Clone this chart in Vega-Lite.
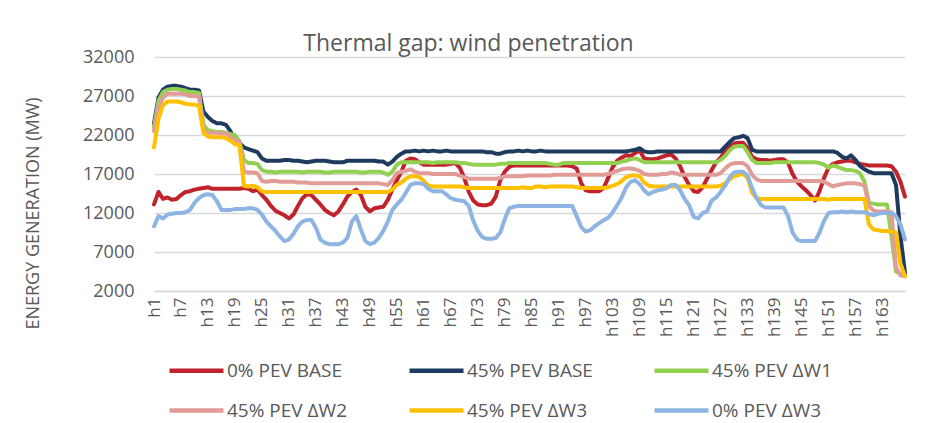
{
"$schema":"https://vega.github.io/schema/vega-lite/v6.json",
"width":751,"height":234,
"autosize":{"type":"none"},
"padding":{"left":154,"top":57,"right":22,"bottom":132},
"background":"white",
"title":{"text":"Thermal gap: wind penetration","anchor":"middle","dx":-61,"dy":12,"offset":4,"fontSize":23,"font":"Open Sans","fontWeight":"normal","color":"#595959"},
"datasets":{"names":[{"k":"a","name":"0% PEV BASE"},{"k":"b","name":"45% PEV BASE"},{"k":"c","name":"45% PEV ΔW1"},{"k":"d","name":"45% PEV ΔW2"},{"k":"e","name":"45% PEV ΔW3"},{"k":"f","name":"0% PEV ΔW3"}]},
"data":{"values":[
{"h":1,"a":13100,"b":23500,"c":23000,"d":22500,"e":20400,"f":10300},
{"h":2,"a":14700,"b":26800,"c":26400,"d":25500,"e":24100,"f":11600},
{"h":3,"a":13800,"b":27800,"c":27500,"d":26800,"e":25800,"f":11300},
{"h":4,"a":14000,"b":28200,"c":27800,"d":27300,"e":26300,"f":11800},
{"h":5,"a":13700,"b":28300,"c":27900,"d":27300,"e":26300,"f":11900},
{"h":6,"a":13800,"b":28300,"c":27900,"d":27300,"e":26300,"f":12000},
{"h":7,"a":14300,"b":28200,"c":27800,"d":27300,"e":26200,"f":12000},
{"h":8,"a":14700,"b":28000,"c":27700,"d":27200,"e":26000,"f":12100},
{"h":9,"a":14800,"b":27800,"c":27500,"d":27000,"e":25900,"f":12400},
{"h":10,"a":15000,"b":27800,"c":27500,"d":27000,"e":25900,"f":13300},
{"h":11,"a":15100,"b":27700,"c":27400,"d":26900,"e":25700,"f":13900},
{"h":12,"a":15200,"b":25000,"c":23300,"d":22600,"e":22300,"f":14300},
{"h":13,"a":15300,"b":24300,"c":22600,"d":22300,"e":21800,"f":14400},
{"h":14,"a":15100,"b":23800,"c":22500,"d":22300,"e":21700,"f":14300},
{"h":15,"a":15100,"b":23500,"c":22400,"d":22300,"e":21700,"f":13500},
{"h":16,"a":15100,"b":23500,"c":22400,"d":22200,"e":21700,"f":12400},
{"h":17,"a":15100,"b":23300,"c":22300,"d":22200,"e":21600,"f":12400},
{"h":18,"a":15100,"b":22500,"c":22100,"d":21800,"e":21300,"f":12400},
{"h":19,"a":15100,"b":21200,"c":22000,"d":21300,"e":20800,"f":12500},
{"h":20,"a":15100,"b":21000,"c":21200,"d":21100,"e":20700,"f":12500},
{"h":21,"a":15200,"b":20400,"c":18800,"d":17300,"e":15500,"f":12500},
{"h":22,"a":15100,"b":20200,"c":18400,"d":17200,"e":15400,"f":12600},
{"h":23,"a":14800,"b":20000,"c":18400,"d":17200,"e":15500,"f":12600},
{"h":24,"a":15000,"b":19800,"c":18300,"d":17100,"e":15300,"f":12400},
{"h":25,"a":14300,"b":19000,"c":17500,"d":16100,"e":14800,"f":11800},
{"h":26,"a":13700,"b":18700,"c":17300,"d":16000,"e":14700,"f":10900},
{"h":27,"a":12900,"b":18700,"c":17300,"d":16100,"e":14700,"f":10300},
{"h":28,"a":12300,"b":18700,"c":17200,"d":16100,"e":14700,"f":9700},
{"h":29,"a":12000,"b":18700,"c":17300,"d":16000,"e":14700,"f":9000},
{"h":30,"a":11700,"b":18800,"c":17300,"d":16000,"e":14700,"f":8400},
{"h":31,"a":11300,"b":18800,"c":17300,"d":16000,"e":14700,"f":8600},
{"h":32,"a":11800,"b":18700,"c":17300,"d":16000,"e":14700,"f":9300},
{"h":33,"a":12900,"b":18700,"c":17300,"d":15900,"e":14700,"f":10300},
{"h":34,"a":13900,"b":18600,"c":17200,"d":15900,"e":14700,"f":10900},
{"h":35,"a":14400,"b":18500,"c":17300,"d":15900,"e":14700,"f":11100},
{"h":36,"a":14300,"b":18600,"c":17300,"d":15800,"e":14700,"f":11100},
{"h":37,"a":13700,"b":18700,"c":17300,"d":15800,"e":14700,"f":10100},
{"h":38,"a":13100,"b":18700,"c":17300,"d":15800,"e":14700,"f":8600},
{"h":39,"a":12400,"b":18700,"c":17200,"d":15800,"e":14700,"f":8200},
{"h":40,"a":12000,"b":18600,"c":17200,"d":15800,"e":14700,"f":8000},
{"h":41,"a":11700,"b":18500,"c":17300,"d":15800,"e":14700,"f":8000},
{"h":42,"a":12200,"b":18500,"c":17300,"d":15800,"e":14700,"f":8000},
{"h":43,"a":13100,"b":18500,"c":17300,"d":15800,"e":14700,"f":8200},
{"h":44,"a":14100,"b":18700,"c":17300,"d":15800,"e":14700,"f":8800},
{"h":45,"a":14700,"b":18700,"c":17300,"d":15800,"e":14700,"f":10900},
{"h":46,"a":15000,"b":18700,"c":17300,"d":15800,"e":14700,"f":11600},
{"h":47,"a":14300,"b":18700,"c":17200,"d":15800,"e":14700,"f":9900},
{"h":48,"a":12800,"b":18700,"c":17200,"d":15800,"e":14700,"f":8400},
{"h":49,"a":12200,"b":18700,"c":17300,"d":15800,"e":14700,"f":8000},
{"h":50,"a":12600,"b":18700,"c":17300,"d":15800,"e":14700,"f":8200},
{"h":51,"a":12700,"b":18600,"c":17300,"d":15800,"e":14700,"f":8800},
{"h":52,"a":12800,"b":18600,"c":17200,"d":15700,"e":14700,"f":9700},
{"h":53,"a":13700,"b":18200,"c":16900,"d":15600,"e":14700,"f":10900},
{"h":54,"a":15000,"b":18600,"c":17300,"d":16200,"e":15000,"f":12400},
{"h":55,"a":16200,"b":19200,"c":18200,"d":17100,"e":15600,"f":13100},
{"h":56,"a":17300,"b":19600,"c":18500,"d":17300,"e":15900,"f":13700},
{"h":57,"a":18700,"b":19900,"c":18500,"d":17400,"e":16400,"f":14600},
{"h":58,"a":19000,"b":19900,"c":18500,"d":17600,"e":16700,"f":15600},
{"h":59,"a":18900,"b":20000,"c":18500,"d":17300,"e":16700,"f":15800},
{"h":60,"a":18500,"b":19900,"c":18500,"d":17100,"e":16600,"f":15800},
{"h":61,"a":18200,"b":20000,"c":18500,"d":17100,"e":16100,"f":15700},
{"h":62,"a":18200,"b":19900,"c":18500,"d":17100,"e":15500,"f":15100},
{"h":63,"a":18200,"b":20000,"c":18400,"d":17000,"e":15400,"f":14800},
{"h":64,"a":18200,"b":19900,"c":18500,"d":17000,"e":15400,"f":14800},
{"h":65,"a":18200,"b":19900,"c":18500,"d":17000,"e":15400,"f":14800},
{"h":66,"a":18200,"b":20000,"c":18500,"d":17000,"e":15400,"f":14400},
{"h":67,"a":18300,"b":19900,"c":18500,"d":17000,"e":15400,"f":13900},
{"h":68,"a":18400,"b":19900,"c":18500,"d":17000,"e":15400,"f":13700},
{"h":69,"a":17800,"b":19900,"c":18400,"d":16800,"e":15400,"f":13600},
{"h":70,"a":16500,"b":19900,"c":18400,"d":16600,"e":15300,"f":13500},
{"h":71,"a":14700,"b":19900,"c":18300,"d":16400,"e":15200,"f":12900},
{"h":72,"a":13600,"b":19900,"c":18200,"d":16400,"e":15200,"f":11000},
{"h":73,"a":13100,"b":19900,"c":18200,"d":16400,"e":15200,"f":9700},
{"h":74,"a":13000,"b":19900,"c":18200,"d":16400,"e":15200,"f":8900},
{"h":75,"a":13000,"b":19800,"c":18200,"d":16400,"e":15200,"f":8700},
{"h":76,"a":13200,"b":19800,"c":18200,"d":16400,"e":15200,"f":8700},
{"h":77,"a":14100,"b":19600,"c":18200,"d":16400,"e":15200,"f":8800},
{"h":78,"a":16200,"b":19600,"c":18300,"d":16500,"e":15200,"f":9500},
{"h":79,"a":17300,"b":19800,"c":18300,"d":16700,"e":15200,"f":11200},
{"h":80,"a":17900,"b":19900,"c":18400,"d":16700,"e":15200,"f":12600},
{"h":81,"a":18100,"b":19900,"c":18400,"d":16700,"e":15200,"f":12800},
{"h":82,"a":18100,"b":20000,"c":18400,"d":16700,"e":15200,"f":12900},
{"h":83,"a":18100,"b":19900,"c":18400,"d":16700,"e":15300,"f":12900},
{"h":84,"a":18100,"b":20000,"c":18400,"d":16800,"e":15200,"f":12900},
{"h":85,"a":18100,"b":19900,"c":18400,"d":16800,"e":15200,"f":12900},
{"h":86,"a":18100,"b":19900,"c":18400,"d":16800,"e":15400,"f":12900},
{"h":87,"a":18100,"b":20000,"c":18400,"d":16800,"e":15400,"f":12900},
{"h":88,"a":18100,"b":19900,"c":18400,"d":16800,"e":15300,"f":12900},
{"h":89,"a":18100,"b":19900,"c":18300,"d":16800,"e":15400,"f":12900},
{"h":90,"a":18100,"b":19900,"c":18200,"d":16900,"e":15400,"f":12900},
{"h":91,"a":18100,"b":19900,"c":18200,"d":16900,"e":15400,"f":12900},
{"h":92,"a":18100,"b":19900,"c":18400,"d":16900,"e":15400,"f":12900},
{"h":93,"a":18100,"b":19900,"c":18400,"d":16900,"e":15400,"f":12900},
{"h":94,"a":18000,"b":19900,"c":18400,"d":16900,"e":15400,"f":12900},
{"h":95,"a":17700,"b":19900,"c":18400,"d":16900,"e":15300,"f":11600},
{"h":96,"a":15800,"b":19900,"c":18400,"d":16900,"e":15200,"f":10200},
{"h":97,"a":14900,"b":19900,"c":18400,"d":16900,"e":15200,"f":9600},
{"h":98,"a":14800,"b":19900,"c":18400,"d":16900,"e":15200,"f":9800},
{"h":99,"a":14800,"b":19900,"c":18400,"d":16900,"e":15200,"f":10300},
{"h":100,"a":14800,"b":19900,"c":18400,"d":16900,"e":15200,"f":10700},
{"h":101,"a":15200,"b":19900,"c":18400,"d":16900,"e":15200,"f":11100},
{"h":102,"a":16500,"b":19900,"c":18400,"d":17000,"e":15300,"f":11400},
{"h":103,"a":17900,"b":19900,"c":18400,"d":17200,"e":15500,"f":12100},
{"h":104,"a":18700,"b":19900,"c":18400,"d":17400,"e":15700,"f":13000},
{"h":105,"a":19100,"b":19900,"c":18600,"d":17600,"e":16100,"f":14000},
{"h":106,"a":19400,"b":19900,"c":18700,"d":17700,"e":16600,"f":15300},
{"h":107,"a":19300,"b":20000,"c":18900,"d":17700,"e":16800,"f":16000},
{"h":108,"a":19700,"b":20100,"c":19000,"d":17600,"e":16800,"f":16200},
{"h":109,"a":20000,"b":20300,"c":18800,"d":17400,"e":16700,"f":15700},
{"h":110,"a":19000,"b":19900,"c":18500,"d":17000,"e":15900,"f":14900},
{"h":111,"a":18900,"b":19800,"c":18500,"d":16900,"e":15500,"f":14400},
{"h":112,"a":18900,"b":19800,"c":18500,"d":16900,"e":15400,"f":14700},
{"h":113,"a":19000,"b":19900,"c":18500,"d":16900,"e":15400,"f":14900},
{"h":114,"a":19200,"b":19900,"c":18500,"d":17000,"e":15400,"f":15000},
{"h":115,"a":19400,"b":19900,"c":18500,"d":17000,"e":15400,"f":15200},
{"h":116,"a":19500,"b":19900,"c":18500,"d":17200,"e":15400,"f":15600},
{"h":117,"a":19000,"b":19900,"c":18500,"d":17100,"e":15400,"f":15600},
{"h":118,"a":18000,"b":19900,"c":18500,"d":16900,"e":15400,"f":14900},
{"h":119,"a":16600,"b":19900,"c":18500,"d":16900,"e":15400,"f":13800},
{"h":120,"a":15600,"b":19900,"c":18500,"d":16900,"e":15400,"f":13000},
{"h":121,"a":14800,"b":19900,"c":18500,"d":16900,"e":15400,"f":11500},
{"h":122,"a":14700,"b":19900,"c":18500,"d":16900,"e":15400,"f":11300},
{"h":123,"a":15300,"b":19900,"c":18500,"d":16900,"e":15400,"f":12000},
{"h":124,"a":16400,"b":19900,"c":18500,"d":16900,"e":15400,"f":12200},
{"h":125,"a":17500,"b":19900,"c":18500,"d":16900,"e":15400,"f":13600},
{"h":126,"a":18500,"b":19900,"c":18500,"d":16900,"e":15400,"f":14000},
{"h":127,"a":19100,"b":19900,"c":18800,"d":17100,"e":15500,"f":14700},
{"h":128,"a":19900,"b":20500,"c":19300,"d":17700,"e":15800,"f":15500},
{"h":129,"a":20500,"b":21100,"c":20000,"d":18200,"e":16300,"f":16600},
{"h":130,"a":20900,"b":21600,"c":20500,"d":18400,"e":16700,"f":17200},
{"h":131,"a":21000,"b":21700,"c":20600,"d":18400,"e":16900,"f":17300},
{"h":132,"a":21000,"b":21900,"c":20600,"d":18400,"e":17000,"f":17300},
{"h":133,"a":20300,"b":21600,"c":19800,"d":18000,"e":16500,"f":16800},
{"h":134,"a":19200,"b":20100,"c":18800,"d":16900,"e":14600,"f":15200},
{"h":135,"a":18900,"b":19900,"c":18400,"d":16300,"e":13900,"f":13900},
{"h":136,"a":18800,"b":19900,"c":18400,"d":16100,"e":13800,"f":13000},
{"h":137,"a":18800,"b":19900,"c":18400,"d":16100,"e":13800,"f":12700},
{"h":138,"a":18700,"b":19900,"c":18400,"d":16100,"e":13800,"f":12700},
{"h":139,"a":18800,"b":19900,"c":18500,"d":16100,"e":13800,"f":12700},
{"h":140,"a":18900,"b":19900,"c":18500,"d":16100,"e":13800,"f":12700},
{"h":141,"a":18900,"b":19900,"c":18500,"d":16100,"e":13800,"f":12700},
{"h":142,"a":18400,"b":19900,"c":18500,"d":16100,"e":13800,"f":11600},
{"h":143,"a":17000,"b":19900,"c":18500,"d":16100,"e":13800,"f":9500},
{"h":144,"a":16000,"b":19900,"c":18500,"d":16100,"e":13800,"f":8600},
{"h":145,"a":15400,"b":19900,"c":18500,"d":16100,"e":13800,"f":8400},
{"h":146,"a":14900,"b":19900,"c":18500,"d":16100,"e":13800,"f":8400},
{"h":147,"a":14300,"b":19900,"c":18500,"d":16100,"e":13800,"f":8400},
{"h":148,"a":13600,"b":19900,"c":18500,"d":16100,"e":13800,"f":8400},
{"h":149,"a":14800,"b":19900,"c":18400,"d":16100,"e":13800,"f":9500},
{"h":150,"a":16500,"b":19900,"c":18200,"d":16000,"e":13800,"f":11000},
{"h":151,"a":17800,"b":19900,"c":17800,"d":15700,"e":13700,"f":12000},
{"h":152,"a":18300,"b":19900,"c":18100,"d":15400,"e":13800,"f":12100},
{"h":153,"a":18500,"b":19700,"c":17900,"d":15600,"e":13800,"f":12100},
{"h":154,"a":18600,"b":19200,"c":17700,"d":15700,"e":13800,"f":12200},
{"h":155,"a":18700,"b":19000,"c":17500,"d":15800,"e":13800,"f":12100},
{"h":156,"a":18700,"b":19400,"c":17500,"d":15800,"e":13800,"f":12200},
{"h":157,"a":18500,"b":18800,"c":17400,"d":15800,"e":13800,"f":12100},
{"h":158,"a":18300,"b":18000,"c":17100,"d":15700,"e":13800,"f":12100},
{"h":159,"a":18200,"b":17600,"c":16000,"d":15500,"e":13800,"f":12100},
{"h":160,"a":18100,"b":17300,"c":13300,"d":12900,"e":10500,"f":11900},
{"h":161,"a":18100,"b":17100,"c":13200,"d":12300,"e":9900,"f":11700},
{"h":162,"a":18100,"b":17100,"c":13100,"d":12200,"e":9800,"f":11900},
{"h":163,"a":18100,"b":17100,"c":13100,"d":12200,"e":9700,"f":12000},
{"h":164,"a":18100,"b":17100,"c":13100,"d":12200,"e":9700,"f":12000},
{"h":165,"a":18000,"b":17100,"c":9000,"d":12100,"e":9600,"f":12000},
{"h":166,"a":17300,"b":15600,"c":4500,"d":5000,"e":9500,"f":11600},
{"h":167,"a":16000,"b":9000,"c":4200,"d":4000,"e":5500,"f":10500},
{"h":168,"a":14100,"b":4300,"c":4000,"d":3900,"e":3900,"f":8600}
]},
"transform":[
{"fold":["a","b","c","d","e","f"],"as":["k","v"]},
{"lookup":"k","from":{"data":{"name":"names"},"key":"k","fields":["name"]}}
],
"mark":{"type":"line","strokeWidth":4,"strokeJoin":"round","strokeCap":"round"},
"encoding":{
"x":{"field":"h","type":"quantitative","scale":{"domain":[1,168],"nice":false,"zero":false},
"axis":{"values":[1,7,13,19,25,31,37,43,49,55,61,67,73,79,85,91,97,103,109,115,121,127,133,139,145,151,157,163],"labelExpr":"'h' + datum.value","labelAngle":-90,"labelAlign":"right","labelBaseline":"middle","labelPadding":6,"labelFontSize":17,"labelFont":"Open Sans","labelColor":"#595959","ticks":false,"grid":false,"domainColor":"#d9d9d9","domainWidth":1.5,"title":null,"labelOverlap":false,"labelBound":false,"labelFlush":false}},
"y":{"field":"v","type":"quantitative","scale":{"domain":[2000,32000],"nice":false,"zero":false},
"axis":{"values":[2000,7000,12000,17000,22000,27000,32000],"format":"d","labelFontSize":18,"labelFont":"Open Sans","labelColor":"#595959","labelPadding":20,"ticks":false,"domain":false,"grid":true,"gridColor":"#d9d9d9","gridWidth":1.5,
"title":"ENERGY GENERATION (MW)","titleFont":"Open Sans","titleFontSize":18,"titleFontWeight":"normal","titleColor":"#595959","titleAngle":-90,"titleAlign":"center","titleBaseline":"middle","titleX":-121,"titleY":156}},
"color":{"field":"name","type":"nominal","scale":{"domain":["0% PEV BASE","45% PEV BASE","45% PEV ΔW1","45% PEV ΔW2","45% PEV ΔW3","0% PEV ΔW3"],"range":["#C0232B","#1F3A5F","#92D050","#E29C98","#FFC000","#8DB4E2"]},
"legend":{"orient":"none","legendX":13,"legendY":284,"direction":"horizontal","columns":3,"title":null,"symbolType":"stroke","symbolSize":2916,"symbolStrokeWidth":4.5,"labelFont":"Open Sans","labelFontSize":19,"labelColor":"#595959","labelOffset":1,"columnPadding":52,"rowPadding":-19}}
},
"config":{"view":{"stroke":null}}
}
